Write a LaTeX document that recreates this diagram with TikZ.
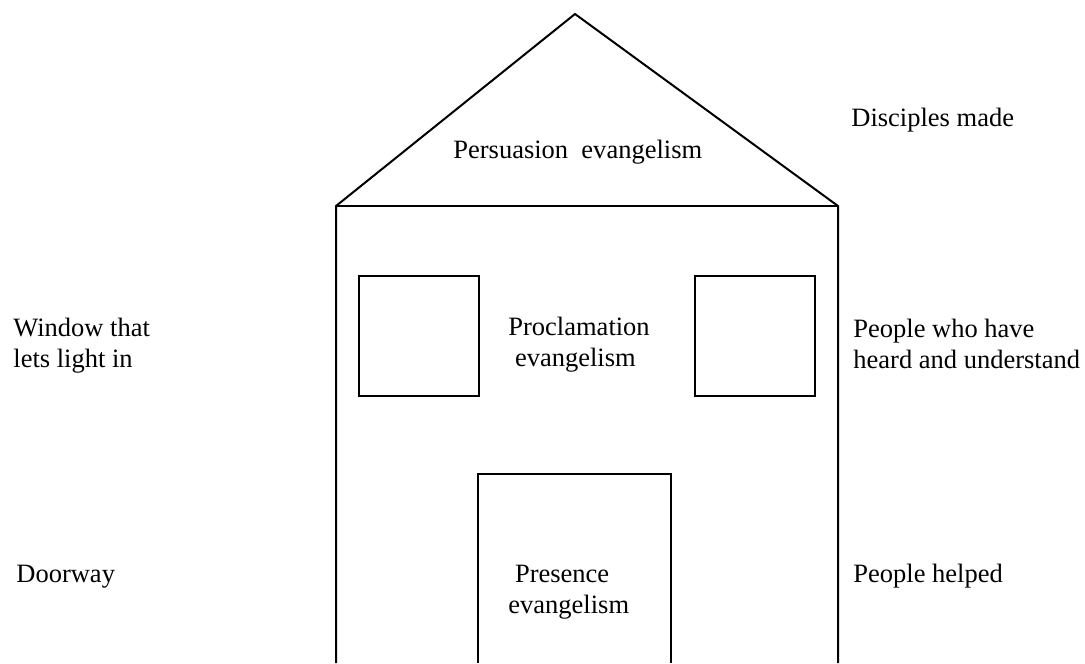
\documentclass[tikz,border=0pt]{standalone}
\usepackage{fontspec}
\setmainfont{Liberation Serif}
\usetikzlibrary{positioning}

\begin{document}
\begin{tikzpicture}[x=0.5pt,y=-0.5pt,
	wall/.style={line width=1pt},
	txt/.style={anchor=base west,inner sep=0pt,align=left,font=\fontsize{13.25}{15.5}\selectfont}]
	\useasboundingbox (0,0) rectangle (1085,663);
	\coordinate (apex) at (575,14);
	\coordinate (eaveL) at (336,206);
	\coordinate (eaveR) at (838,206);
	\coordinate (footL) at (336,663);
	\coordinate (footR) at (838,663);
	\draw[wall] (footL) -- (eaveL) -- (apex) -- (eaveR) -- (footR);%walls and roof
	\draw[wall] (eaveL) -- (eaveR);
	\draw[wall] (359,276) rectangle (479,396);%left window
	\draw[wall] (695,276) rectangle (815,396);%right window
	\draw[wall] (478,663) -- (478,474) -- (671,474) -- (671,663);%door
	\node[txt] (persuasion) at (453,159) {Persuasion\ \ evangelism};
	\node[txt] (proclamation) at (508,366) {Proclamation\\\ evangelism};
	\node[txt] (presence) at (508,613) {\ Presence\\evangelism};
	\node[txt] (disciples) at (851,127) {Disciples made};
	\node[txt] (heard) at (853,368) {People who have\\heard and understand};
	\node[txt] (helped) at (853,582) {People helped};
	\node[txt] (window) at (13,367) {Window that\\lets light in};
	\node[txt] (doorway) at (16,582) {Doorway};
\end{tikzpicture}
\end{document}
